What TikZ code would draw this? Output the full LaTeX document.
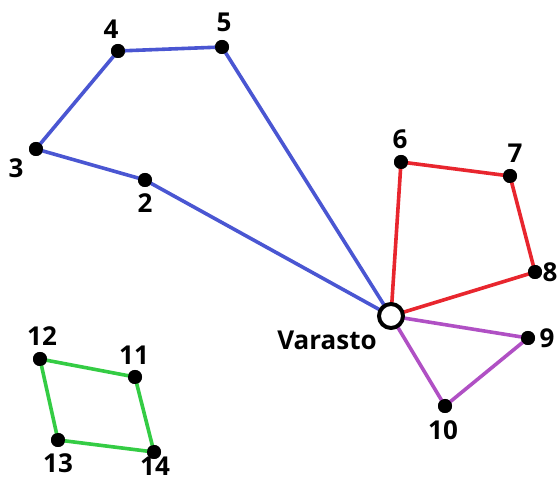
\documentclass[tikz,border=0pt]{standalone}
\usepackage{fontspec}
\setmainfont{Open Sans}
\definecolor{cblue}{HTML}{4A56D2}
\definecolor{cred}{HTML}{E8262E}
\definecolor{cpurple}{HTML}{B050C4}
\definecolor{cgreen}{HTML}{34CC44}
\begin{document}
\begin{tikzpicture}[x=1pt,y=-1pt,
  pt/.style={circle,fill=black,inner sep=0pt,minimum size=14pt},
  lbl/.style={font=\fontsize{26}{30}\selectfont\bfseries,inner sep=0pt},
  edge/.style={line width=3.6pt}]
\useasboundingbox (0,0) rectangle (558,481);
\node[pt] (p2) at (145,180) {};
\node[pt] (p3) at (36,149) {};
\node[pt] (p4) at (118,51) {};
\node[pt] (p5) at (222,47) {};
\node[pt] (p6) at (401,162) {};
\node[pt] (p7) at (510,176) {};
\node[pt] (p8) at (535,272) {};
\node[pt] (p9) at (528,338) {};
\node[pt] (p10) at (445,406) {};
\node[pt] (p11) at (135,377) {};
\node[pt] (p12) at (40,359) {};
\node[pt] (p13) at (58,440) {};
\node[pt] (p14) at (154,452) {};
\coordinate (v) at (391,316);
\draw[edge,cblue] (v) -- (p2.center) -- (p3.center) -- (p4.center) -- (p5.center) -- (v);
\draw[edge,cred] (v) -- (p6.center) -- (p7.center) -- (p8.center) -- (v);
\draw[edge,cpurple] (v) -- (p9.center) -- (p10.center) -- (v);
\draw[edge,cgreen] (p12.center) -- (p11.center) -- (p14.center) -- (p13.center) -- cycle;
\foreach \n in {2,...,14} {\node[pt] at (p\n) {};}
\node[circle,draw=black,fill=white,line width=4pt,minimum size=24pt,inner sep=0pt] (vs) at (v) {};
\node[lbl] (l2) at (145,203) {2};
\node[lbl] (l3) at (16,168) {3};
\node[lbl] (l4) at (111,29) {4};
\node[lbl] (l5) at (224,22) {5};
\node[lbl] (l6) at (400,139) {6};
\node[lbl] (l7) at (515,153) {7};
\node[lbl] (l8) at (550,272) {8};
\node[lbl] (l9) at (547,338) {9};
\node[lbl] (l10) at (443,430) {10};
\node[lbl] (l11) at (134,355) {11};
\node[lbl] (l12) at (42,336) {12};
\node[lbl] (l13) at (58,463) {13};
\node[lbl] (l14) at (155,466) {14};
\node[lbl] (lv) at (327,340) {Varasto};
\end{tikzpicture}
\end{document}
